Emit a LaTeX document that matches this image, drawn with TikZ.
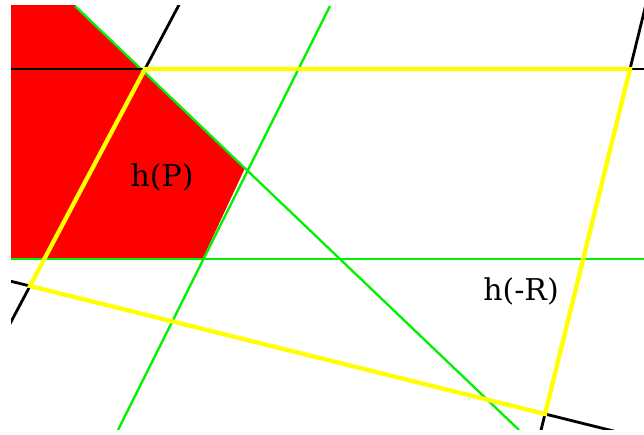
\documentclass[tikz,border=0pt]{standalone}
\usepackage{fontspec}
\setmainfont{DejaVu Serif}
\usetikzlibrary{calc}
\definecolor{PureRed}{rgb}{1, 0, 0}
\definecolor{PureGreen}{rgb}{0, 0.95, 0}
\definecolor{PureYellow}{rgb}{1, 1, 0}

\begin{document}
\begin{tikzpicture}[
    x=1pt, y=-1pt,
    region/.style={fill=PureRed},
    bound/.style={draw=PureGreen, line width=2.3pt},
    edgeline/.style={draw=black, line width=2.8pt},
    quad/.style={draw=PureYellow, line width=4.3pt, line join=miter},
    lbl/.style={font=\fontsize{30}{36}\selectfont},
]
\useasboundingbox (0,0) rectangle (644,434);

% corners of h(-R)
\coordinate (A) at (145,69);
\coordinate (B) at (630,69);
\coordinate (C) at (545,414);
\coordinate (D) at (30,286);

\begin{scope}
\clip (11,5) rectangle (644,429);

% h(P)
\fill[region] (11,5) -- (75,5) -- (245,168) -- (203,258) -- (11,258) -- cycle;

% bounding lines of h(P)
\draw[bound] (75,6) -- (519,430);
\draw[bound] (330,6) -- (118,430);
\draw[bound] (11,259) -- (644,259);

% sides of h(-R), extended
\foreach \a/\b in {A/B, B/C, C/D, D/A}
    \draw[edgeline] ($(\a)!-1!(\b)$) -- ($(\b)!-1!(\a)$);

\draw[quad] (A) -- (B) -- (C) -- (D) -- cycle;
\end{scope}

\node[lbl] (hp) at (162,177) {h(P)};
\node[lbl] (hr) at (521,291) {h(-R)};

\end{tikzpicture}
\end{document}
